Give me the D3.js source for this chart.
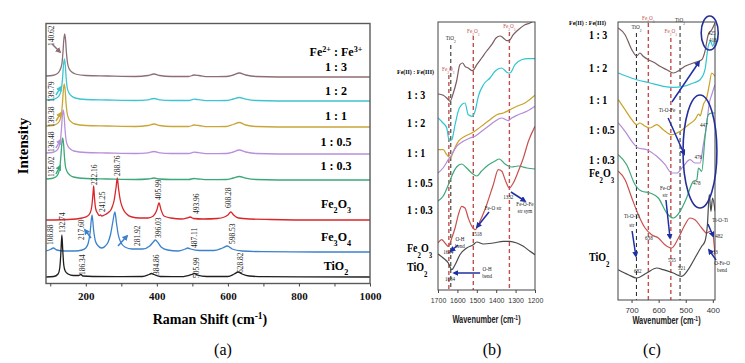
<!DOCTYPE html>
<html>
<head>
<meta charset="utf-8">
<script src="https://cdn.jsdelivr.net/npm/d3@7"></script>
<style>
  body { margin: 0; background: #fff; }
  svg text { font-family: "Liberation Serif", "Times New Roman", serif; }
  .sans text, text.sans { font-family: "Liberation Sans", Arial, sans-serif; }
</style>
</head>
<body>
<svg id="chart" width="745" height="363"></svg>
<script>
// ---------- panel (a): Raman spectra, [shift cm-1, intensity above baseline] ----------
const ramanNames = ['1 : 3', '1 : 2', '1 : 1', '1 : 0.5', '1 : 0.3', 'Fe_2O_3', 'Fe_3O_4', 'TiO_2']
const ramanColors = ['#8d6e74', '#3fc4d2', '#c9a63a', '#b88fdc', '#3aa877', '#d8262a', '#3b82cc', '#1e1e1e']
const ramanOffsets = [206.5, 182.5, 156.5, 129.5, 103.5, 63.5, 31.5, 6.5]

const raman13 = [[88,1],[105,1.5],[118,3],[126,6],[132.6,13],[135.6,24],[138.1,37],[140.6,43],[143.1,37],[145.6,24],[148.6,14],[153.6,8],[160.6,5],[170.6,3],[200,1.5],[260,1],[340,0.5],[375,1.5],[392,3],[408,1.5],[440,0.5],[490,0.5],[505,2],[518,1.5],[545,0.3],[595,0.5],[615,2],[632,4],[650,2],[680,0.5],[800,0],[1000,0]]
const raman12 = [[88,1],[105,1.5],[118,3],[126,6],[131.8,13],[134.8,24],[137.3,36],[139.8,42],[142.3,36],[144.8,23],[147.8,13],[152.8,8],[159.8,5],[169.8,3],[200,1.5],[260,1],[340,0.5],[375,1.2],[392,2.5],[408,1.2],[440,0.5],[490,0.5],[505,1.8],[518,1.3],[545,0.3],[595,0.5],[615,2],[632,3.5],[650,1.8],[680,0.5],[800,0],[1000,0]]
const raman11 = [[88,1],[105,1.5],[118,3],[126,6],[131.4,13],[134.4,24],[136.9,37],[139.4,43],[141.9,37],[144.4,24],[147.4,14],[152.4,8],[159.4,5],[169.4,3],[200,1.5],[260,1],[340,0.5],[375,1.5],[392,3],[408,1.5],[440,0.5],[490,0.5],[505,2],[518,1.5],[545,0.3],[595,0.5],[615,2.5],[632,4.5],[650,2],[680,0.5],[800,0],[1000,0]]
const raman105 = [[88,1],[105,1.5],[116,3],[123,6],[128.5,13],[131.5,25],[134,38],[136.5,44],[139,38],[141.5,25],[144.5,14],[149.5,8],[156.5,5],[166.5,3],[200,1.5],[260,1],[340,0.5],[375,1.2],[392,2.5],[408,1.2],[440,0.5],[490,0.5],[505,1.8],[518,1.3],[545,0.3],[595,0.5],[615,2],[632,4],[650,2],[680,0.5],[800,0],[1000,0]]
const raman103 = [[88,1],[104,1.5],[115,3],[122,6],[127,13],[130,24],[132.5,36],[135,42],[137.5,36],[140,23],[143,13],[148,8],[155,5],[165,3],[200,1.5],[260,1],[340,0.5],[375,1],[392,2],[408,1],[440,0.5],[490,0.5],[505,1.5],[518,1],[545,0.3],[595,0.5],[615,2],[632,3.5],[650,1.8],[680,0.5],[800,0],[1000,0]]
const ramanFe2O3 = [[88,0],[150,0.5],[190,2],[205,4],[212,7],[217,14],[220,25],[222.2,34],[224.5,22],[228,11],[233,7],[238,4.5],[241.3,5],[245,4],[252,5],[262,7],[272,11],[280,20],[285,32],[288.8,42],[292,32],[297,20],[305,11],[315,6],[330,3],[350,2],[375,2],[390,4],[400,10],[406,17],[412,10],[420,4],[440,2],[470,1],[485,2],[494,3],[503,1.5],[530,1],[570,1.5],[590,3],[600,5],[608.3,8],[616,5],[630,2],[660,1],[720,0.5],[850,0],[1000,0]]
const ramanFe3O4 = [[88,1],[100,2.5],[108.9,4],[118,2],[140,1],[170,1],[190,2],[200,4],[207,9],[212,19],[217.6,37],[222,22],[227,11],[235,6],[245,4],[255,6],[263,10],[270,18],[276,30],[281.9,40],[286,30],[291,18],[298,10],[310,5],[330,3],[360,3],[380,6],[390,10],[396,12],[402,10],[412,5],[430,2],[460,1],[480,3],[487,4],[495,3],[520,1.5],[560,1.5],[585,4],[598.5,6],[612,3],[640,1],[700,0.3],[850,0],[1000,0]]
const ramanTiO2 = [[88,0],[110,0.5],[122,3],[127,10],[130,25],[132.7,42],[135,28],[138,12],[142,6],[150,3],[165,1.5],[180,1.5],[186.3,2.5],[192,1],[220,0.5],[300,0.3],[360,0.5],[378,2.5],[385,3.5],[392,2.5],[410,0.5],[470,0.3],[498,2.5],[506,3.5],[514,2],[540,0.5],[600,0.5],[618,3],[629,5],[640,3],[660,1],[700,0.3],[1000,0]]
const ramanData = [raman13, raman12, raman11, raman105, raman103, ramanFe2O3, ramanFe3O4, ramanTiO2]

// peak labels: [text, shift, level]
const ramanPeakLabels = [
  ['140.62',102,237.5],['139.79',102,181.5],['139.38',102,156.5],['136.48',102,131.5],['135.02',102,106.5],
  ['222.16',223,98.5],['288.76',288,107.5],['241.25',246,71.5],['405.99',403,83.5],['493.96',510,69.5],['608.28',600,75.5],
  ['108.88',99,38.5],['132.74',133,50.5],['217.60',186.5,43.5],['281.92',344,37.5],['396.03',403,45.5],['487.11',504.5,35.5],['598.53',611.5,39.5],
  ['186.34',189,8.5],['384.86',397.6,8.5],['505.99',510,5.5],['628.82',634,10.5]
]
// arrows: [shift1, level1, shift2, level2, series index]
const ramanArrows = [
  [105,239.5,127.4,231.5,0],[116,188.5,130,196.5,1],[116,162.5,130,170.5,2],[116,135.5,129,143.5,3],[116,109.5,128,117.5,4],
  [214.7,45.5,197.8,53.5,6],[290.6,37.5,316,47.5,6]
]
const ramanTicks = [100, 200, 300, 400, 500, 600, 700, 800, 900, 1000]

// ---------- panel (b): FTIR 1700-1200, [wavenumber, absorbance units] ----------
const ftirNames = ['1 : 3', '1 : 2', '1 : 1', '1 : 0.5', '1 : 0.3', 'Fe_2O_3', 'TiO_2']
const ftirColors = ['#7a5c5f', '#2fc5d0', '#c9a227', '#b58ad9', '#3ea87a', '#c9504c', '#4a4a4a']
const ftirB13 = [[1700,196],[1673,194.7],[1655,192],[1638,188.7],[1621,197],[1604,209],[1587,225.3],[1573,227],[1561,223.7],[1544,222],[1523,219.3],[1500,225.3],[1475,232],[1449,239],[1423,245.3],[1401,252],[1380,254],[1363,252],[1346,249.3],[1334,249.3],[1312,255.3],[1286,260.3],[1252,265.3],[1226,267],[1200,270.3]]
const ftirB12 = [[1700,172],[1674,167],[1655,162],[1642,149.3],[1629,150.3],[1612,165.3],[1590,182],[1561,187],[1544,175.3],[1523,173.7],[1509,178.7],[1492,193.7],[1466,205.3],[1432,212],[1406,218.7],[1372,222],[1338,217],[1329,217],[1303,225.3],[1269,230.3],[1235,231.3],[1200,231.3]]
const ftirB11 = [[1700,140.3],[1673,140.3],[1655,135.3],[1635,132],[1621,138.7],[1595,148.7],[1561,153.7],[1526,157],[1500,160.3],[1466,165.3],[1432,170.3],[1397,175.3],[1363,177],[1329,180.3],[1294,183.7],[1252,187],[1200,194.7]]
const ftirB105 = [[1700,117],[1674,122],[1647,130.3],[1629,135.3],[1604,143.7],[1570,148.7],[1535,152],[1509,153.7],[1475,158.7],[1441,163.7],[1406,168.7],[1372,172],[1338,169.3],[1320,172],[1286,175.3],[1242,178.7],[1200,183.7]]
const ftirB103 = [[1700,89],[1673,94],[1647,105],[1629,114],[1604,123],[1578,126],[1552,122],[1526,117],[1500,114],[1475,119],[1441,125],[1406,129],[1384,131],[1355,126],[1320,123],[1286,124],[1242,122],[1200,121]]
const ftirBFe2O3 = [[1700,47],[1681,50.3],[1664,47],[1647,43.7],[1629,52],[1612,62],[1595,75.3],[1578,83.7],[1561,82],[1544,72],[1526,63.7],[1509,60.3],[1484,68.7],[1449,85.3],[1415,105.3],[1389,120.3],[1371,118.7],[1354,110.3],[1332,102],[1312,107],[1286,118.7],[1260,132],[1234,148.7],[1200,163.7]]
const ftirBTiO2 = [[1700,36],[1673,32],[1647,27],[1629,20.3],[1612,25.3],[1587,35.3],[1552,42],[1518,45.3],[1500,48],[1466,46],[1415,47],[1363,48.7],[1329,48.7],[1294,47],[1260,43.7],[1226,38.7],[1200,35.3]]
const ftirBData = [ftirB13, ftirB12, ftirB11, ftirB105, ftirB103, ftirBFe2O3, ftirBTiO2]
const ftirBTicks = [1700, 1600, 1500, 1400, 1300, 1200]
// reference lines: [wavenumber, label, top level, colour]
const ftirBRefs = [[1634, 'TiO_2', 245, '#222'], [1644, 'Fe_2O_3', 215, '#c0504d'], [1518, 'Fe_2O_3', 254, '#c0504d'], [1332, 'Fe_2O_3', 258, '#c0504d']]
const ftirBRefLabels = [[1634, 252], [1647, 221], [1518, 259], [1332, 264]]
const ftirBNotes = [['O-H', 1587, 51], ['bend', 1587, 44], ['1644', 1647, 38], ['Fe-O str', 1416, 82], ['1518', 1500, 56], ['1332', 1338, 93],
  ['Fe-O-Fe', 1252, 86], ['str sym', 1252, 79], ['O-H', 1447, 21], ['bend', 1447, 14], ['1634', 1638, 11]]
const ftirBArrows = [[1597, 45, 1633, 39], [1437, 78, 1499, 63], [1324, 98, 1252, 89], [1483, 17, 1617, 17]]

// ---------- panel (c): FTIR 750-400 ----------
const ftirC13 = [[749,272],[724,265.3],[699,250.3],[681,244],[669,247],[657,243.7],[638,240.3],[613,237],[595,233.7],[570,230.3],[546,227],[521,230.3],[503,233.7],[472,237],[441,240.3],[429,248.7],[417,265.3],[404,270.3],[392,277]]
const ftirC12 = [[749,227],[718,223.7],[681,220.3],[632,217],[583,213.7],[546,212.7],[509,213.7],[472,217],[447,220.3],[429,230.3],[417,253.7],[408,258.7],[400,253.7],[392,265.3]]
const ftirC11 = [[749,200.3],[724,190.3],[699,180.3],[681,175.3],[669,177],[650,173.7],[632,172],[607,175.3],[583,170.3],[552,165.3],[521,168.7],[490,175.3],[466,180.3],[452,186],[447,184],[440,190],[435,195.3],[423,202],[413,215.3],[404,227],[392,223.7]]
const ftirC105 = [[749,177],[724,168.7],[699,158.7],[675,152],[644,150.3],[607,143.7],[576,135.3],[552,127],[533,127],[509,133.7],[484,140.3],[466,137],[447,137],[435,155.3],[423,175.3],[413,197],[404,205.3],[392,215.3]]
const ftirC103 = [[749,145.3],[718,135.3],[687,115.3],[662,108.7],[632,107],[601,102],[570,87],[546,82],[521,88.7],[497,102],[472,118.7],[459,120.3],[453,132],[441,128.7],[429,162],[417,185.3],[404,187],[392,187]]
const ftirCFe2O3 = [[749,128.7],[724,120.3],[699,102],[675,85.3],[650,72],[626,65.3],[601,62],[577,55.3],[552,52],[527,62],[503,75.3],[484,82],[466,80.3],[441,72],[423,67],[410,68.7],[401,67],[392,45]]
const ftirCTiO2 = [[749,30.3],[712,25.3],[681,22],[644,27],[607,32],[583,30.3],[546,27],[515,23.7],[491,30.3],[466,42],[441,53.7],[429,58.7],[420,75.3],[413,105.3],[407,88.7],[401,102],[392,88.7]]
const ftirCData = [ftirC13, ftirC12, ftirC11, ftirC105, ftirC103, ftirCFe2O3, ftirCTiO2]
const ftirCTicks = [700, 600, 500, 400]
const ftirCRefs = [[682, 'TiO_2', 267, '#222'], [638, 'Fe_2O_3', 277, '#c0504d'], [555, 'Fe_2O_3', 262, '#c0504d'], [521, 'TiO_2', 274, '#222']]
const ftirCRefLabels = [[682, 273], [638, 282], [555, 269], [521, 280]]
const ftirCNotes = [['425', 404, 267], ['418', 400.5, 260], ['447', 433, 175], ['476', 454, 143], ['478', 459.5, 117], ['482', 377, 64], ['433', 396, 48],
  ['638', 636, 62], ['555', 551, 40], ['521', 515, 32], ['682', 677, 29], ['Ti-O-Fe', 569, 190], ['Ti-O-Ti', 699, 84], ['str', 699, 75],
  ['Fe-O', 576, 112], ['str', 576, 105], ['Ti-O-Ti', 373, 80], ['O-Fe-O', 366, 37], ['bend', 366, 30]]
const ftirCArrows = [[551, 198, 451, 238], [565, 182, 506, 146], [698, 69, 684, 44], [573, 100, 558, 62], [418, 76, 399, 64], [388, 40, 414, 50]]
// ellipses: [wn left, wn right, level bottom, level top]
const ftirCEllipses = [[443, 380, 250, 284], [510, 385, 92, 205]]

// ---------- drawing ----------
const svg = d3.select('#chart')
svg.append('rect').attr('width', 745).attr('height', 363).attr('fill', '#fff')
const defs = svg.append('defs')

function addMarker(id, color) {
  defs.append('marker').attr('id', id).attr('viewBox', '0 0 10 10').attr('refX', 7).attr('refY', 5)
    .attr('markerWidth', 4).attr('markerHeight', 4).attr('orient', 'auto')
    .append('path').attr('d', 'M0,0L10,5L0,10z').attr('fill', color)
}
ramanColors.forEach((c, i) => addMarker('ma' + i, c))
addMarker('mblue', '#1d2fa5')

// text with _x subscripts and ^{..} superscripts
function rich(t, str) {
  const re = /([_^])\{([^}]*)\}|([_^])(.)/g
  let last = 0, m
  while ((m = re.exec(str))) {
    if (m.index > last) t.append('tspan').text(str.slice(last, m.index))
    const kind = m[1] || m[3], s = m[2] || m[4]
    t.append('tspan').attr('baseline-shift', kind === '^' ? 'super' : 'sub').attr('font-size', '68%').text(s)
    last = re.lastIndex
  }
  if (last < str.length) t.append('tspan').text(str.slice(last))
  return t
}

// horizontally squeezed text (panels b, c come from narrowed images)
function squeezed(g, x, y, sx) {
  return g.append('text').attr('transform', `translate(${x},${y}) scale(${sx},1)`)
}

function clip(id, x, y, w, h) {
  defs.append('clipPath').attr('id', id).append('rect').attr('x', x).attr('y', y).attr('width', w).attr('height', h)
}

// ---- (a)
const xa = d3.scaleLinear().domain([88, 1000]).range([46, 370])
const ya = d3.scaleLinear().domain([0, 260]).range([283.5, 23.5])
const ga = svg.append('g')
clip('ca', 46, 23.5, 324, 260)

const curvesA = ga.append('g').attr('clip-path', 'url(#ca)')
ramanData.forEach((d, i) => {
  const line = d3.line().curve(d3.curveMonotoneX).x(p => xa(p[0])).y(p => ya(p[1] + ramanOffsets[i]))
  curvesA.append('path').attr('d', line(d)).attr('fill', 'none').attr('stroke', ramanColors[i]).attr('stroke-width', 1.3)
})

ga.append('rect').attr('x', 46).attr('y', 23.5).attr('width', 324).attr('height', 260)
  .attr('fill', 'none').attr('stroke', '#5a5a5a').attr('stroke-width', 1.4)

const axA = ga.append('g').attr('transform', 'translate(0,283.5)')
  .call(d3.axisBottom(xa).tickValues(ramanTicks).tickSize(3).tickPadding(6).tickFormat(d => d % 200 === 0 ? d : ''))
axA.select('.domain').remove()
axA.selectAll('line').attr('stroke', '#444')
axA.selectAll('text').attr('font-size', 11).attr('font-weight', 'bold').attr('fill', '#111')
  .attr('font-family', '"Liberation Serif", serif')

rich(ga.append('text').attr('x', 210).attr('y', 324).attr('text-anchor', 'middle')
  .attr('font-size', 14).attr('font-weight', 'bold'), 'Raman Shift (cm^{-1})')
ga.append('text').attr('transform', 'translate(28,146) rotate(-90)').attr('text-anchor', 'middle')
  .attr('font-size', 15).attr('font-weight', 'bold').text('Intensity')
ga.append('text').attr('x', 223).attr('y', 355).attr('text-anchor', 'middle').attr('font-size', 16).text('(a)')

const nameLevelA = [216.5, 192.5, 167.5, 141.5, 117.5, 79.5, 46.5, 17.5]
rich(ga.append('text').attr('x', 336).attr('y', ya(231.5) + 4).attr('text-anchor', 'middle')
  .attr('font-size', 12).attr('font-weight', 'bold'), 'Fe^{2+} : Fe^{3+}')
ramanNames.forEach((n, i) => {
  rich(ga.append('text').attr('x', 336).attr('y', ya(nameLevelA[i]) + 4).attr('text-anchor', 'middle')
    .attr('font-size', 12).attr('font-weight', 'bold'), n)
})

ramanPeakLabels.forEach(([t, s, v]) => {
  ga.append('text').attr('transform', `translate(${xa(s)},${ya(v)}) rotate(-90)`).attr('dy', '0.35em')
    .attr('font-size', 7.5).attr('fill', '#222').text(t)
})
ramanArrows.forEach(([s1, v1, s2, v2, k]) => {
  ga.append('line').attr('x1', xa(s1)).attr('y1', ya(v1)).attr('x2', xa(s2)).attr('y2', ya(v2))
    .attr('stroke', ramanColors[k]).attr('stroke-width', 1.5).attr('marker-end', `url(#ma${k})`)
})

// ---- shared drawer for the FTIR panels
function ftirPanel(o) {
  const g = svg.append('g')
  const x = d3.scaleLinear().domain(o.xDomain).range([o.left, o.right])
  const y = d3.scaleLinear().domain([0, o.top]).range([o.bottom, o.bottom - o.top])
  clip(o.id, o.left, o.bottom - o.top, o.right - o.left, o.top)

  o.refs.forEach(([w, lab, top, col], i) => {
    g.append('line').attr('x1', x(w)).attr('x2', x(w)).attr('y1', y(top)).attr('y2', y(0))
      .attr('stroke', col).attr('stroke-width', col === '#222' ? 1 : 1.4).attr('stroke-dasharray', '4,3')
    const [lw, lv] = o.refLabels[i]
    rich(squeezed(g, x(lw), y(lv) + 2, 0.8).attr('text-anchor', 'middle')
      .attr('font-size', 6.5).attr('fill', col), lab)
  })

  const cg = g.append('g').attr('clip-path', `url(#${o.id})`)
  o.data.forEach((d, i) => {
    const line = d3.line().curve(d3.curveMonotoneX).x(p => x(p[0])).y(p => y(p[1]))
    cg.append('path').attr('d', line(d)).attr('fill', 'none').attr('stroke', ftirColors[i]).attr('stroke-width', 1.2)
  })

  g.append('rect').attr('x', o.left).attr('y', o.bottom - o.top).attr('width', o.right - o.left).attr('height', o.top)
    .attr('fill', 'none').attr('stroke', '#444').attr('stroke-width', 1)

  const ax = g.append('g').attr('class', 'sans').attr('transform', `translate(0,${o.bottom})`)
    .call(d3.axisBottom(x).tickValues(o.ticks).tickSize(3).tickPadding(o.pad).tickFormat(d3.format('d')))
  ax.select('.domain').remove()
  ax.selectAll('line').attr('stroke', '#444')
  ax.selectAll('text').attr('font-size', o.tickFont).attr('fill', '#333')

  rich(squeezed(g, (o.left + o.right) / 2, o.titleY, 0.74).attr('class', 'sans')
    .attr('text-anchor', 'middle').attr('font-size', 10).attr('font-weight', 'bold').attr('fill', '#222'), 'Wavenumber (cm^{-1})')
  g.append('text').attr('x', o.tagX).attr('y', 355).attr('text-anchor', 'middle').attr('font-size', 16).text(o.tag)

  squeezed(g, o.hdrX, o.hdrY, 0.85).attr('font-size', 7).attr('font-weight', 'bold').text('Fe(II) : Fe(III)')
  ftirNames.forEach((n, i) => {
    rich(squeezed(g, o.nameX, o.nameY[i] + 4, 0.8).attr('font-size', 12.5).attr('font-weight', 'bold'), n)
  })

  o.notes.forEach(([t, w, v]) => {
    squeezed(g, x(w), y(v) + 2, 0.85).attr('text-anchor', 'middle').attr('font-size', 6).attr('fill', '#222').text(t)
  })
  o.arrows.forEach(([w1, v1, w2, v2]) => {
    g.append('line').attr('x1', x(w1)).attr('y1', y(v1)).attr('x2', x(w2)).attr('y2', y(v2))
      .attr('stroke', '#1d2fa5').attr('stroke-width', 1.5).attr('marker-end', 'url(#mblue)')
  })
  ;(o.ellipses || []).forEach(([w1, w2, v1, v2]) => {
    g.append('ellipse').attr('cx', (x(w1) + x(w2)) / 2).attr('cy', (y(v1) + y(v2)) / 2)
      .attr('rx', Math.abs(x(w2) - x(w1)) / 2).attr('ry', Math.abs(y(v2) - y(v1)) / 2)
      .attr('fill', 'none').attr('stroke', '#24309a').attr('stroke-width', 1.6)
  })
}

ftirPanel({
  id: 'cb', xDomain: [1700, 1200], left: 438, right: 535, bottom: 290, top: 268,
  data: ftirBData, ticks: ftirBTicks, pad: 5, tickFont: 7, titleY: 323, tag: '(b)', tagX: 492,
  refs: ftirBRefs, refLabels: ftirBRefLabels, notes: ftirBNotes, arrows: ftirBArrows,
  hdrX: 397, hdrY: 74, nameX: 407, nameY: [95, 123, 153, 183, 210, 248, 267]
})
ftirPanel({
  id: 'cc', xDomain: [750, 392], left: 618, right: 715, bottom: 300, top: 278,
  data: ftirCData, ticks: ftirCTicks, pad: 4, tickFont: 8, titleY: 324, tag: '(c)', tagX: 652,
  refs: ftirCRefs, refLabels: ftirCRefLabels, notes: ftirCNotes, arrows: ftirCArrows, ellipses: ftirCEllipses,
  hdrX: 569, hdrY: 25, nameX: 589, nameY: [35, 68, 100, 130, 160, 173, 257]
})
</script>
</body>
</html>
